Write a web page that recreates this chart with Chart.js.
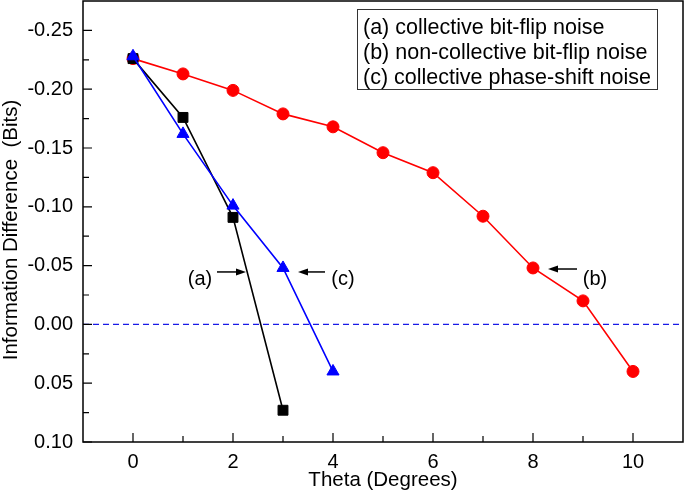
<!DOCTYPE html>
<html><head><meta charset="utf-8">
<script src="https://cdn.jsdelivr.net/npm/chart.js@4/dist/chart.umd.min.js"></script>
<style>html,body{margin:0;padding:0;background:#fff}#wrap{width:685px;height:494px}</style>
</head><body><div id="wrap"><canvas id="c" width="685" height="494"></canvas></div>
<script>
// ---- data ----
const thetaB = [0,1,2,3,4,5,6,7,8,9,10];
const seriesB = [-0.226,-0.213,-0.199,-0.179,-0.168,-0.146,-0.129,-0.092,-0.048,-0.020,0.040];
const thetaA = [0,1,2,3];
const seriesA = [-0.226,-0.176,-0.091,0.073];
const thetaC = [0,1,2,3,4];
const seriesC = [-0.228,-0.162,-0.101,-0.048,0.040];
const xTicks = [0,2,4,6,8,10];
const yTicks = [-0.25,-0.20,-0.15,-0.10,-0.05,0,0.05,0.10];
const xMinor = [1,3,5,7,9];
const yMinor = [-0.225,-0.175,-0.125,-0.075,-0.025,0.025,0.075];
const zeroLineX = [-1, 11];
const zeroLineY = [0, 0];
const legendLabels = ['(a) collective bit-flip noise','(b) non-collective bit-flip noise','(c) collective phase-shift noise'];
const xTitle = 'Theta (Degrees)';
const yTitle = 'Information Difference  (Bits)';
// annotations in data coordinates: label, label pos, arrow tail, arrow head
const annLabels = ['(a)','(c)','(b)'];
const annText = [[1.34,-0.0386],[4.2,-0.0386],[9.24,-0.0386]];
const annTail = [[1.68,-0.0446],[3.84,-0.0446],[8.88,-0.0471]];
const annHead = [[2.26,-0.0446],[3.30,-0.0446],[8.30,-0.0471]];

const FONT = '"Liberation Sans", Arial, Helvetica, sans-serif';
const pts = (xs, ys) => xs.map((x,i)=>({x:x, y:ys[i]}));

const decor = {
  id:'decor',
  afterDatasetsDraw(chart){
    const ctx = chart.ctx, a = chart.chartArea;
    const xs = chart.scales.x, ys = chart.scales.y;
    ctx.save();
    // frame
    ctx.strokeStyle = '#000'; ctx.lineWidth = 1.5;
    ctx.strokeRect(a.left, a.top, a.right - a.left, a.bottom - a.top);
    // ticks (inward)
    ctx.lineWidth = 1.2;
    ctx.beginPath();
    yTicks.forEach(v=>{const p=ys.getPixelForValue(v); ctx.moveTo(a.left,p); ctx.lineTo(a.left+9,p);});
    yMinor.forEach(v=>{const p=ys.getPixelForValue(v); ctx.moveTo(a.left,p); ctx.lineTo(a.left+6,p);});
    xTicks.forEach(v=>{const p=xs.getPixelForValue(v); ctx.moveTo(p,a.bottom); ctx.lineTo(p,a.bottom-9);});
    xMinor.forEach(v=>{const p=xs.getPixelForValue(v); ctx.moveTo(p,a.bottom); ctx.lineTo(p,a.bottom-6);});
    ctx.stroke();
    // legend box
    ctx.lineWidth = 1; ctx.strokeStyle = '#333';
    ctx.fillStyle = '#fff';
    ctx.fillRect(357.5, 9.5, 300, 80);
    ctx.strokeRect(357.5, 9.5, 300, 80);
    ctx.fillStyle = '#000';
    ctx.font = '21.5px ' + FONT;
    ctx.textBaseline = 'middle'; ctx.textAlign = 'left';
    legendLabels.forEach((t,i)=>ctx.fillText(t, 363, 28 + i*25));
    // annotations
    ctx.font = '20px ' + FONT;
    ctx.textAlign = 'center';
    annLabels.forEach((t,i)=>{
      ctx.fillText(t, xs.getPixelForValue(annText[i][0]), ys.getPixelForValue(annText[i][1]));
      const x1 = xs.getPixelForValue(annTail[i][0]), y1 = ys.getPixelForValue(annTail[i][1]);
      const x2 = xs.getPixelForValue(annHead[i][0]), y2 = ys.getPixelForValue(annHead[i][1]);
      const dir = Math.sign(x2 - x1);
      ctx.strokeStyle = '#000'; ctx.lineWidth = 1.5;
      ctx.beginPath(); ctx.moveTo(x1,y1); ctx.lineTo(x2 - dir*8, y2); ctx.stroke();
      ctx.beginPath(); ctx.moveTo(x2,y2); ctx.lineTo(x2 - dir*10, y2-3.5); ctx.lineTo(x2 - dir*10, y2+3.5); ctx.closePath(); ctx.fill();
    });
    // y title
    ctx.save();
    ctx.font = '20.5px ' + FONT;
    ctx.translate(11, 230); ctx.rotate(-Math.PI/2);
    ctx.textAlign = 'center'; ctx.textBaseline = 'middle';
    ctx.fillText(yTitle, 0, 0);
    ctx.restore();
    ctx.restore();
  }
};

new Chart(document.getElementById('c'), {
  type:'line',
  data:{
    datasets:[
      {label:'(c)', data:pts(thetaC, seriesC), borderColor:'#0000ff', backgroundColor:'#0000ff',
       pointStyle:'triangle', pointRadius:7, pointBorderWidth:1, borderWidth:1.6, order:0, clip:false},
      {label:'(a)', data:pts(thetaA, seriesA), borderColor:'#000000', backgroundColor:'#000000',
       pointStyle:'rect', pointRadius:7, pointBorderWidth:1, borderWidth:1.6, order:1, clip:false},
      {label:'(b)', data:pts(thetaB, seriesB), borderColor:'#ff0000', backgroundColor:'#ff0000',
       pointStyle:'circle', pointRadius:6, pointBorderWidth:1, borderWidth:1.6, order:2, clip:false},
      {label:'zero', data:pts(zeroLineX, zeroLineY), borderColor:'#1a1ae6', borderDash:[6,4],
       borderWidth:1.2, pointRadius:0, order:3}
    ]
  },
  options:{
    responsive:false, animation:false, events:[],
    layout:{autoPadding:false, padding:{top:1, right:2, left:0, bottom:0}},
    plugins:{legend:{display:false}, tooltip:{enabled:false}},
    scales:{
      x:{type:'linear', min:-1, max:11,
         grid:{display:false, drawTicks:false}, border:{display:false},
         ticks:{color:'#000', font:{family:FONT, size:20}, padding:8, callback:v=>String(v)},
         afterBuildTicks:s=>{s.ticks = xTicks.map(v=>({value:v}));},
         afterFit:s=>{s.height = 52; s.paddingLeft = 0; s.paddingRight = 0;},
         title:{display:true, text:xTitle, color:'#000', font:{family:FONT, size:20.5, lineHeight:1.2}, padding:{top:0,bottom:1}}
      },
      y:{type:'linear', reverse:true, min:-0.275, max:0.10,
         grid:{display:false, drawTicks:false}, border:{display:false},
         ticks:{color:'#000', font:{family:FONT, size:20}, padding:10, callback:v=>Number(v).toFixed(2)},
         afterBuildTicks:s=>{s.ticks = yTicks.map(v=>({value:v}));},
         afterFit:s=>{s.width = 83; s.paddingTop = 0; s.paddingBottom = 0;}
      }
    }
  },
  plugins:[decor]
});
</script></body></html>
